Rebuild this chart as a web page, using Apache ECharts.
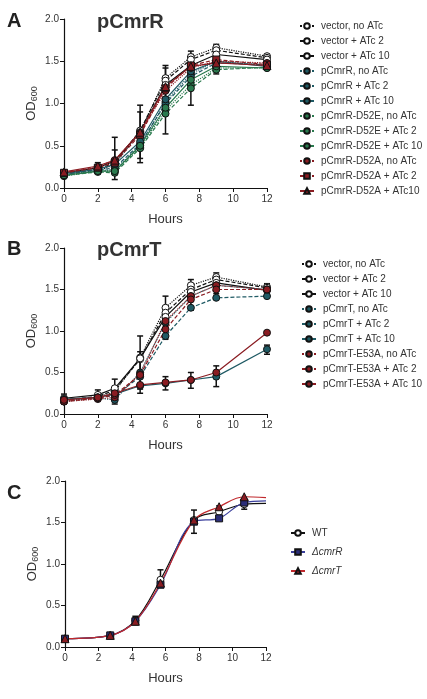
<!DOCTYPE html>
<html>
<head>
<meta charset="utf-8">
<script src="https://cdn.jsdelivr.net/npm/echarts@6/dist/echarts.min.js"></script>
<style>
  html, body { margin: 0; padding: 0; background: #fff; }
  #chart { width: 427px; height: 699px; }
</style>
</head>
<body>
<div id="chart"></div>
<script>
// time points (hours)
const hoursAB = [0, 2, 3, 4.5, 6, 7.5, 9, 12];
const hoursC = [0, 2.7, 4.2, 5.7, 7.7, 9.2, 10.7, 12];
const yTicks = ["0.0", "0.5", "1.0", "1.5", "2.0"];

// panel A: pCmrR
const namesA = [
  "vector, no ATc", "vector + ATc 2", "vector + ATc 10",
  "pCmrR, no ATc", "pCmrR + ATc 2", "pCmrR + ATc 10",
  "pCmrR-D52E, no ATc", "pCmrR-D52E + ATc 2", "pCmrR-D52E + ATc 10",
  "pCmrR-D52A, no ATc", "pCmrR-D52A + ATc 2", "pCmrR-D52A + ATc10"
];
const valuesA = [
  [0.15, 0.20, 0.28, 0.67, 1.30, 1.55, 1.66, 1.56],
  [0.17, 0.22, 0.30, 0.68, 1.27, 1.52, 1.63, 1.54],
  [0.18, 0.24, 0.32, 0.66, 1.22, 1.45, 1.58, 1.52],
  [0.16, 0.20, 0.22, 0.50, 1.02, 1.35, 1.50, 1.45],
  [0.16, 0.21, 0.24, 0.52, 1.00, 1.32, 1.48, 1.46],
  [0.17, 0.22, 0.28, 0.55, 1.05, 1.38, 1.50, 1.44],
  [0.14, 0.20, 0.20, 0.48, 0.92, 1.22, 1.42, 1.42],
  [0.15, 0.19, 0.18, 0.47, 0.88, 1.18, 1.40, 1.43],
  [0.15, 0.20, 0.20, 0.50, 0.95, 1.28, 1.44, 1.42],
  [0.18, 0.25, 0.33, 0.65, 1.15, 1.42, 1.50, 1.48],
  [0.18, 0.24, 0.30, 0.63, 1.18, 1.45, 1.52, 1.46],
  [0.19, 0.26, 0.33, 0.66, 1.20, 1.44, 1.48, 1.45]
];
// error bars [hour, low, high]
const errA = [
  [0, 0.13, 0.20], [2, 0.17, 0.30], [3, 0.10, 0.60], [3, 0.20, 0.45],
  [4.5, 0.30, 0.98], [4.5, 0.35, 0.90], [6, 0.64, 1.45], [6, 0.90, 1.42],
  [7.5, 0.98, 1.62], [7.5, 1.30, 1.58], [9, 1.35, 1.70], [12, 1.40, 1.58]
];

// panel B: pCmrT
const namesB = [
  "vector, no ATc ", "vector + ATc 2 ", "vector + ATc 10 ",
  "pCmrT, no ATc", "pCmrT + ATc 2", "pCmrT + ATc 10",
  "pCmrT-E53A, no ATc", "pCmrT-E53A + ATc 2", "pCmrT-E53A + ATc 10"
];
const valuesB = [
  [0.15, 0.20, 0.27, 0.68, 1.28, 1.55, 1.65, 1.53],
  [0.17, 0.21, 0.29, 0.66, 1.22, 1.50, 1.62, 1.52],
  [0.19, 0.23, 0.31, 0.67, 1.17, 1.47, 1.58, 1.49],
  [0.16, 0.19, 0.17, 0.50, 1.10, 1.42, 1.55, 1.50],
  [0.17, 0.20, 0.22, 0.45, 0.94, 1.28, 1.40, 1.42],
  [0.18, 0.20, 0.24, 0.34, 0.37, 0.41, 0.45, 0.78],
  [0.15, 0.18, 0.20, 0.48, 1.12, 1.42, 1.55, 1.50],
  [0.15, 0.19, 0.23, 0.47, 1.02, 1.38, 1.50, 1.50],
  [0.17, 0.20, 0.25, 0.35, 0.38, 0.41, 0.50, 0.98]
];
const errB = [
  [0, 0.12, 0.24], [2, 0.16, 0.29], [3, 0.12, 0.42], [4.5, 0.25, 0.94],
  [4.5, 0.30, 0.75], [6, 0.90, 1.42], [6, 0.29, 0.45], [7.5, 1.25, 1.62],
  [7.5, 0.31, 0.50], [9, 0.33, 0.58], [9, 1.45, 1.70], [12, 0.72, 0.83],
  [12, 1.45, 1.57]
];

// panel C: deletion strains
const namesC = ["WT", "ΔcmrR", "ΔcmrT"];
const valuesC = [
  [0.10, 0.14, 0.32, 0.81, 1.53, 1.63, 1.72, 1.73],
  [0.10, 0.14, 0.31, 0.75, 1.51, 1.55, 1.74, 1.76],
  [0.10, 0.14, 0.31, 0.77, 1.53, 1.69, 1.81, 1.80]
];
const errC = [
  [4.2, 0.27, 0.37], [5.7, 0.72, 0.93], [7.7, 1.37, 1.65],
  [9.2, 1.58, 1.70], [10.7, 1.66, 1.78]
];

// styles
const TEAL = "#1f5a64", GREEN = "#2a7a4e", RED = "#8a1c22", NAVY = "#2b2e78";
const dashes = ["dotted", [4, 2], "solid"];
const styleA = [
  { c: "#111", fill: "#fff", sym: "circle" },
  { c: "#111", fill: "#fff", sym: "circle" },
  { c: "#111", fill: "#fff", sym: "circle" },
  { c: TEAL, fill: TEAL, sym: "circle" },
  { c: TEAL, fill: TEAL, sym: "circle" },
  { c: TEAL, fill: TEAL, sym: "circle" },
  { c: GREEN, fill: GREEN, sym: "circle" },
  { c: GREEN, fill: GREEN, sym: "circle" },
  { c: GREEN, fill: GREEN, sym: "circle" },
  { c: RED, fill: RED, sym: "circle" },
  { c: RED, fill: RED, sym: "rect" },
  { c: RED, fill: RED, sym: "triangle" }
];
const styleB = [
  { c: "#111", fill: "#fff", sym: "circle" },
  { c: "#111", fill: "#fff", sym: "circle" },
  { c: "#111", fill: "#fff", sym: "circle" },
  { c: TEAL, fill: TEAL, sym: "circle" },
  { c: TEAL, fill: TEAL, sym: "circle" },
  { c: TEAL, fill: TEAL, sym: "circle" },
  { c: RED, fill: RED, sym: "circle" },
  { c: RED, fill: RED, sym: "circle" },
  { c: RED, fill: RED, sym: "circle" }
];
const styleC = [
  { c: "#111", fill: "#fff", sym: "circle" },
  { c: "#3a3f9c", fill: NAVY, sym: "rect" },
  { c: "#c0282c", fill: RED, sym: "triangle" }
];

const FONT = "Liberation Sans, Arial, sans-serif";
const TXT = "#333";

const grids = [
  { left: 64, top: 19, width: 203, height: 169 },
  { left: 64, top: 248, width: 203, height: 166 },
  { left: 65, top: 481, width: 201, height: 166 }
];

function xAxis(i) {
  return {
    type: "value", gridIndex: i, min: 0, max: 12, interval: 2,
    name: "Hours", nameLocation: "middle", nameGap: 25,
    nameTextStyle: { fontSize: 13, color: TXT, fontFamily: FONT },
    axisLine: { lineStyle: { color: "#111", width: 1.2 } },
    axisTick: { length: 4, lineStyle: { color: "#111" } },
    axisLabel: { fontSize: 10, color: TXT, fontFamily: FONT, margin: 6 },
    splitLine: { show: false }
  };
}
function yAxis(i) {
  return {
    type: "value", gridIndex: i, min: 0, max: 2, interval: 0.5,
    name: "{a|OD}{b|600}", nameLocation: "middle", nameGap: 25, nameRotate: 90,
    nameTextStyle: {
      rich: {
        a: { fontSize: 13, color: TXT, fontFamily: FONT },
        b: { fontSize: 9, color: TXT, fontFamily: FONT, verticalAlign: "bottom", padding: [6, 0, 0, 0] }
      }
    },
    axisLine: { show: true, lineStyle: { color: "#111", width: 1.2 } },
    axisTick: { show: true, length: 4, lineStyle: { color: "#111" } },
    axisLabel: {
      fontSize: 10, color: TXT, fontFamily: FONT, margin: 5,
      formatter: (v) => yTicks[Math.round(v / 0.5)]
    },
    splitLine: { show: false }
  };
}

function lineSeries(names, values, styles, xs, idx, dashFor, smooth) {
  return names.map((name, k) => ({
    name: name,
    type: "line",
    xAxisIndex: idx, yAxisIndex: idx,
    smooth: smooth,
    data: values[k].map((v, j) => {
      const item = { value: [xs[j], v] };
      if (smooth && j === xs.length - 1) item.symbol = "none";
      return item;
    }),
    symbol: styles[k].sym,
    symbolSize: styles[k].sym === "triangle" ? 8 : 7,
    lineStyle: { color: styles[k].c, width: 1.2, type: dashFor(k) },
    itemStyle: { color: styles[k].fill, borderColor: "#111", borderWidth: 1 },
    z: 3
  }));
}

function errSeries(errs, idx) {
  return {
    type: "custom",
    xAxisIndex: idx, yAxisIndex: idx,
    data: errs,
    silent: true,
    z: 2,
    renderItem: function (params, api) {
      const lo = api.coord([api.value(0), api.value(1)]);
      const hi = api.coord([api.value(0), api.value(2)]);
      const w = 3;
      const st = { stroke: "#111", lineWidth: 1.5 };
      return {
        type: "group",
        children: [
          { type: "line", shape: { x1: lo[0], y1: lo[1], x2: hi[0], y2: hi[1] }, style: st },
          { type: "line", shape: { x1: lo[0] - w, y1: lo[1], x2: lo[0] + w, y2: lo[1] }, style: st },
          { type: "line", shape: { x1: hi[0] - w, y1: hi[1], x2: hi[0] + w, y2: hi[1] }, style: st }
        ]
      };
    }
  };
}

function legend(names, left, top, gap) {
  return {
    data: names,
    orient: "vertical",
    left: left, top: top,
    itemWidth: 14, itemHeight: 7, itemGap: gap,
    textStyle: { fontSize: 10, color: TXT, fontFamily: FONT, padding: [0, 0, 0, 2] },
    selectedMode: false
  };
}

const series = [].concat(
  lineSeries(namesA, valuesA, styleA, hoursAB, 0, (k) => dashes[k % 3], false),
  [errSeries(errA, 0)],
  lineSeries(namesB, valuesB, styleB, hoursAB, 1, (k) => dashes[k % 3], false),
  [errSeries(errB, 1)],
  lineSeries(namesC, valuesC, styleC, hoursC, 2, () => "solid", 0.35),
  [errSeries(errC, 2)]
);

const chart = echarts.init(document.getElementById("chart"), null, { renderer: "canvas" });
chart.setOption({
  animation: false,
  backgroundColor: "#fff",
  grid: grids,
  xAxis: [xAxis(0), xAxis(1), xAxis(2)],
  yAxis: [yAxis(0), yAxis(1), yAxis(2)],
  title: [
    { text: "A", left: 2, top: 6, textStyle: { fontSize: 20, fontWeight: "bold", color: "#222", fontFamily: FONT } },
    { text: "pCmrR", left: 92, top: 7, textStyle: { fontSize: 20, fontWeight: "bold", color: "#333", fontFamily: FONT } },
    { text: "B", left: 2, top: 234, textStyle: { fontSize: 20, fontWeight: "bold", color: "#222", fontFamily: FONT } },
    { text: "pCmrT", left: 92, top: 235, textStyle: { fontSize: 20, fontWeight: "bold", color: "#333", fontFamily: FONT } },
    { text: "C", left: 2, top: 478, textStyle: { fontSize: 20, fontWeight: "bold", color: "#222", fontFamily: FONT } }
  ],
  legend: [
    legend(namesA, 294, 16, 5),
    legend(namesB, 296, 254, 5),
    Object.assign(legend(namesC, 285, 523, 9), {
      formatter: (n) => n === "WT" ? n : "{i|" + n + "}",
      textStyle: {
        fontSize: 10, color: TXT, fontFamily: FONT, padding: [0, 0, 0, 2],
        rich: { i: { fontSize: 10, fontStyle: "italic", color: TXT, fontFamily: FONT } }
      }
    })
  ],
  series: series
});
</script>
</body>
</html>
